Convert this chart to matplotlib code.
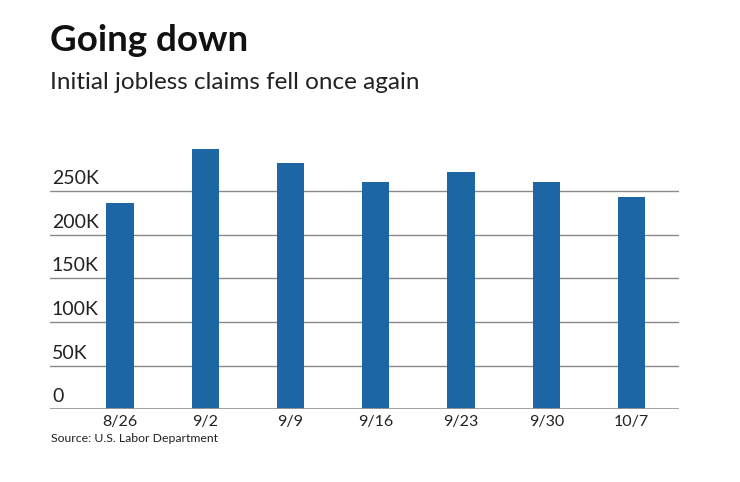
import matplotlib.pyplot as plt
import matplotlib.transforms as mtransforms
import numpy as np

plt.rcParams['font.family'] = ['Lato', 'DejaVu Sans']

# Data (weekly initial jobless claims)
weeks = ['8/26', '9/2', '9/9', '9/16', '9/23', '9/30', '10/7']
claims = [236000, 298000, 282000, 260000, 272000, 260000, 243000]
y_ticks = [0, 50000, 100000, 150000, 200000, 250000]
y_labels = ['0', '50K', '100K', '150K', '200K', '250K']

bar_color = '#1c67a3'

fig = plt.figure(figsize=(7.4, 4.82), dpi=100)
ax = fig.add_axes([0.0676, 0.1508, 0.85, 0.562])

x = np.arange(len(weeks))
ax.bar(x, claims, width=0.32, color=bar_color, zorder=3)

ax.set_xlim(-0.82, len(weeks) - 1 + 0.555)
ax.set_ylim(0, 310000)

# gridlines
for v in y_ticks[1:]:
    ax.axhline(v, color='#8a8a8a', linewidth=1.0, zorder=1)
ax.axhline(0, color='#999999', linewidth=2.0, zorder=4)

# y labels sit on top of gridlines, inside the plot
trans = mtransforms.blended_transform_factory(ax.transAxes, ax.transData)
offset = mtransforms.offset_copy(trans, fig=fig, x=0, y=4, units='dots')
for v, lab in zip(y_ticks, y_labels):
    ax.text(0.003, v, lab, transform=offset, ha='left', va='bottom',
            fontsize=14, color='#222222', zorder=5)

ax.set_yticks([])
ax.set_xticks(x)
ax.set_xticklabels(weeks, fontsize=11.5, color='#222222')
ax.tick_params(axis='x', length=0, pad=4)
for s in ax.spines.values():
    s.set_visible(False)

fig.text(0.068, 0.915, 'Going down', fontsize=26.5, fontweight='bold',
         color='#111111', ha='left', va='center')
fig.text(0.068, 0.828, 'Initial jobless claims fell once again', fontsize=17.5,
         color='#222222', ha='left', va='center')
fig.text(0.069, 0.091, 'Source: U.S. Labor Department', fontsize=8.8,
         color='#222222', ha='left', va='center')

fig.savefig('out.png', dpi=100)
